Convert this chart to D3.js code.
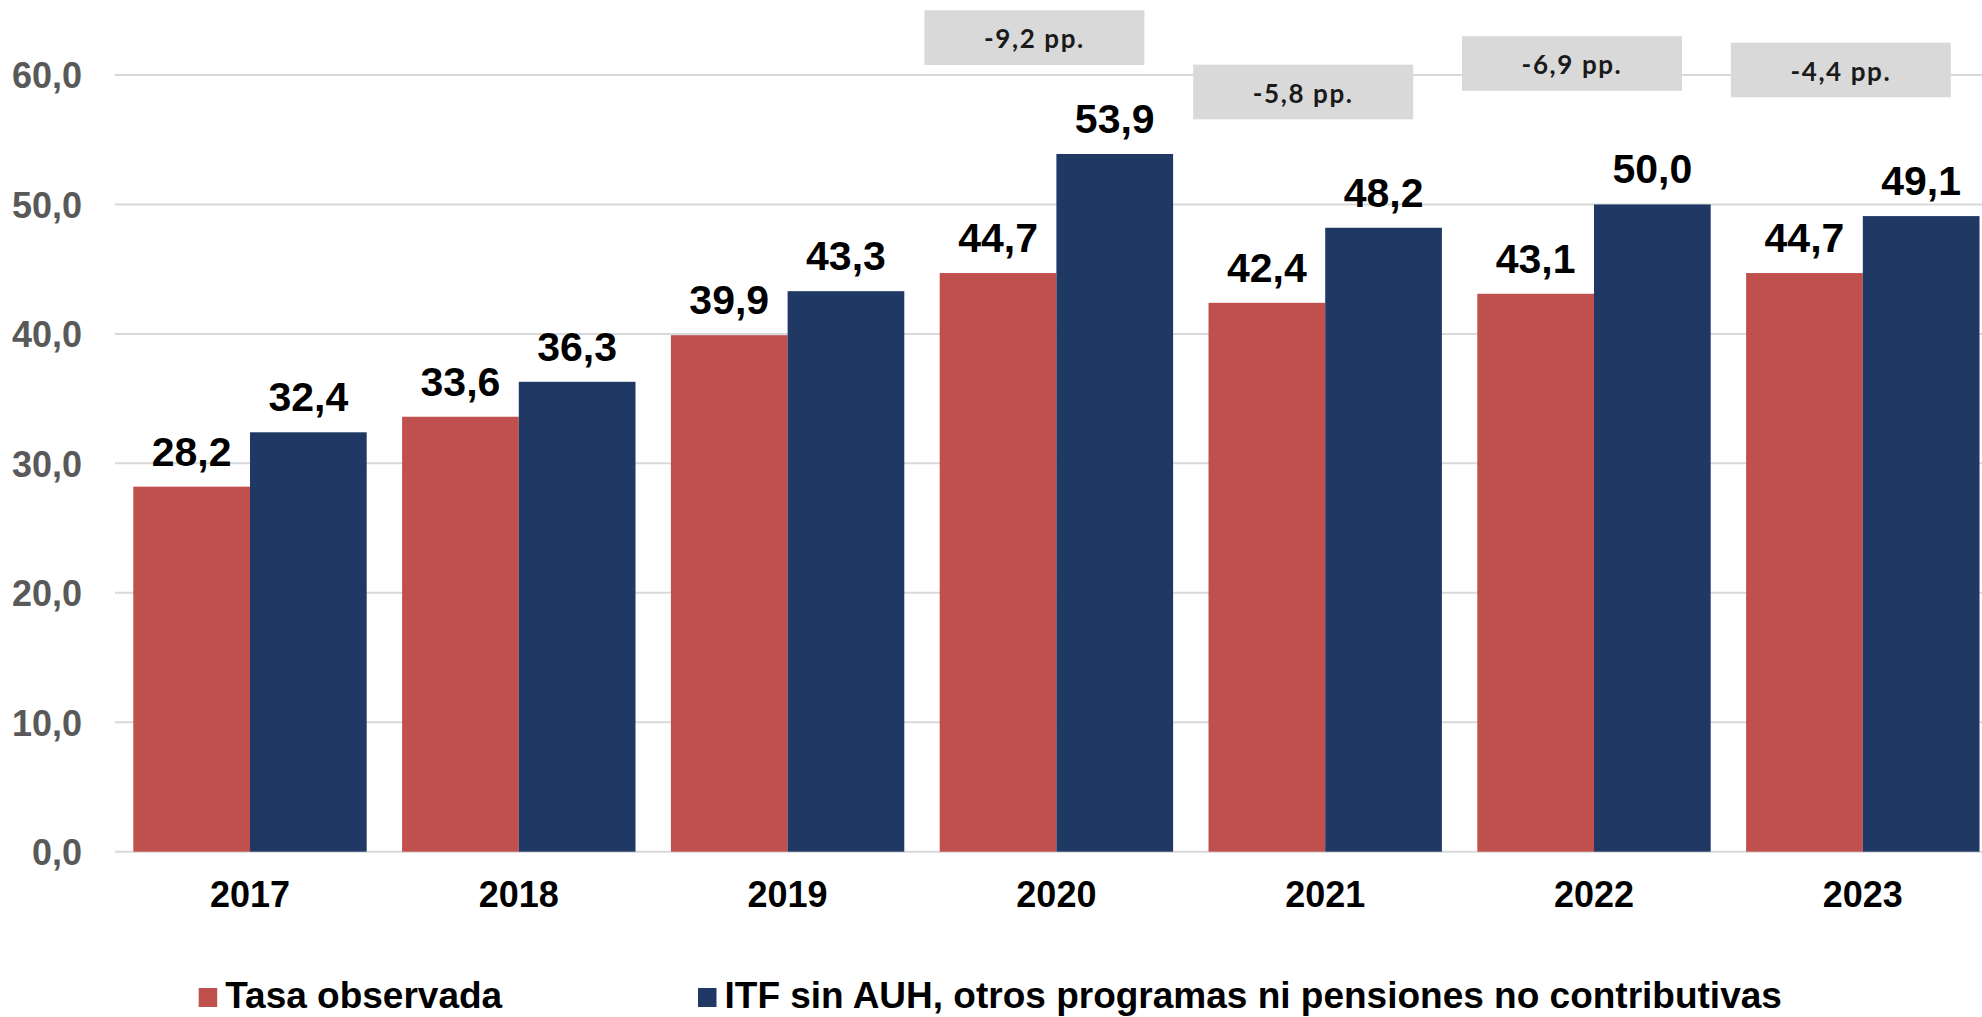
<!DOCTYPE html>
<html>
<head>
<meta charset="utf-8">
<script src="https://cdn.jsdelivr.net/npm/d3@7"></script>
<style>
  body { margin: 0; background: #fff; }
  svg { display: block; }
</style>
</head>
<body>
<div id="chart"></div>
<script>
// data
var years = ["2017", "2018", "2019", "2020", "2021", "2022", "2023"];
var tasaObservada = [28.2, 33.6, 39.9, 44.7, 42.4, 43.1, 44.7];
var itfSinAuh = [32.4, 36.3, 43.3, 53.9, 48.2, 50.0, 49.1];
var seriesNames = ["Tasa observada", "ITF sin AUH, otros programas ni pensiones no contributivas"];
var yTicks = [0, 10, 20, 30, 40, 50, 60];
var diffYears = ["2020", "2021", "2022", "2023"];
var diffLabels = ["-9,2 pp.", "-5,8 pp.", "-6,9 pp.", "-4,4 pp."];

// layout
var width = 1982, height = 1017;
var colors = ["#C0504D", "#203864"];
var boxTop = [65, 60.8, 63, 62.5]; // annotation box tops, in axis units
var fmt = function(v) { return v.toFixed(1).replace(".", ","); };

var svg = d3.select("#chart").append("svg")
  .attr("width", width)
  .attr("height", height);

var x = d3.scaleBand()
  .domain(years)
  .range([115.6, 1997.2])
  .paddingInner(0.1317)
  .paddingOuter(0.0658);

var xs = d3.scaleBand()
  .domain([0, 1])
  .range([0, x.bandwidth()]);

var y = d3.scaleLinear()
  .domain([0, 60])
  .range([851.7, 75]);

// gridlines
svg.append("g")
  .selectAll("line")
  .data(yTicks)
  .join("line")
    .attr("x1", 115)
    .attr("x2", width)
    .attr("y1", function(d) { return y(d); })
    .attr("y2", function(d) { return y(d); })
    .attr("stroke", "#d9d9d9")
    .attr("stroke-width", 2);

// y axis labels
var yAxis = svg.append("g")
  .attr("transform", "translate(82,0)")
  .call(d3.axisLeft(y).tickValues(yTicks).tickSize(0).tickPadding(0).tickFormat(fmt));
yAxis.select(".domain").remove();
yAxis.selectAll("text")
  .attr("font-family", "'Liberation Sans', Arial, sans-serif")
  .attr("font-size", 36)
  .attr("font-weight", "bold")
  .attr("fill", "#595959")
  .attr("dy", "0.36em");

// bars
var rows = years.map(function(yr, i) {
  return { year: yr, values: [tasaObservada[i], itfSinAuh[i]] };
});

var groups = svg.append("g")
  .selectAll("g")
  .data(rows)
  .join("g")
    .attr("transform", function(d) { return "translate(" + x(d.year) + ",0)"; });

groups.selectAll("rect")
  .data(function(d) { return d.values; })
  .join("rect")
    .attr("x", function(d, i) { return xs(i); })
    .attr("width", xs.bandwidth())
    .attr("y", function(d) { return y(d); })
    .attr("height", function(d) { return y(0) - y(d); })
    .attr("fill", function(d, i) { return colors[i]; });

groups.selectAll("text")
  .data(function(d) { return d.values; })
  .join("text")
    .attr("x", function(d, i) { return xs(i) + xs.bandwidth() / 2; })
    .attr("y", function(d) { return y(d) - 21; })
    .attr("text-anchor", "middle")
    .attr("font-family", "'Liberation Sans', Arial, sans-serif")
    .attr("font-size", 41)
    .attr("font-weight", "bold")
    .attr("fill", "#000")
    .text(fmt);

// x axis labels
var xAxis = svg.append("g")
  .attr("transform", "translate(0," + y(0) + ")")
  .call(d3.axisBottom(x).tickSize(0).tickPadding(0));
xAxis.select(".domain").remove();
xAxis.selectAll("text")
  .attr("font-family", "'Liberation Sans', Arial, sans-serif")
  .attr("font-size", 36)
  .attr("font-weight", "bold")
  .attr("fill", "#000")
  .attr("dy", 0)
  .attr("y", 907 - y(0));

// difference boxes
var boxes = svg.append("g")
  .selectAll("g")
  .data(diffLabels)
  .join("g")
    .attr("transform", function(d, i) {
      var cx = x(diffYears[i]) + x.bandwidth() / 2 - 22;
      return "translate(" + (cx - 110) + "," + y(boxTop[i]) + ")";
    });

boxes.append("rect")
  .attr("width", 220)
  .attr("height", 54.7)
  .attr("fill", "#d9d9d9");

boxes.append("text")
  .attr("x", 110)
  .attr("y", 38.2)
  .attr("text-anchor", "middle")
  .attr("font-family", "Lato, 'Open Sans', sans-serif")
  .attr("font-size", 26)
  .attr("font-weight", "bold")
  .attr("letter-spacing", 1.6)
  .attr("fill", "#1a1a1a")
  .text(function(d) { return d; });

// legend
var legendX = [198.7, 698];
var legend = svg.append("g")
  .selectAll("g")
  .data(seriesNames)
  .join("g")
    .attr("transform", function(d, i) { return "translate(" + legendX[i] + ",988)"; });

legend.append("rect")
  .attr("width", 18.5)
  .attr("height", 19)
  .attr("fill", function(d, i) { return colors[i]; });

legend.append("text")
  .attr("x", 26.5)
  .attr("y", 20)
  .attr("font-family", "'Liberation Sans', Arial, sans-serif")
  .attr("font-size", 37)
  .attr("font-weight", "bold")
  .attr("fill", "#000")
  .text(function(d) { return d; });
</script>
</body>
</html>
